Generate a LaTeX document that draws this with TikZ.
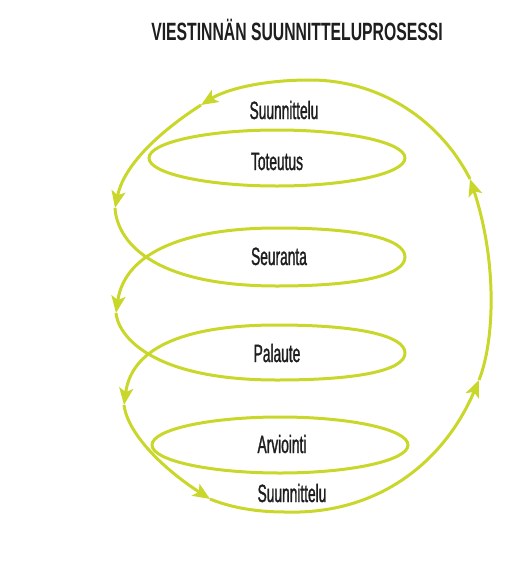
\documentclass[tikz,border=0pt]{standalone}
\usepackage{fontspec}
\usepackage{tikz}
\usetikzlibrary{arrows.meta}
\newfontfamily\lblfont[FakeStretch=0.55,FakeBold=1.2]{Liberation Sans}
\newfontfamily\ttlfont[FakeStretch=0.63]{Liberation Sans Bold}
\definecolor{VSLime}{HTML}{C9D62A}
\definecolor{VSInk}{HTML}{1E1E1E}

\begin{document}
\begin{tikzpicture}[
  x=1pt,y=-1pt,
  spiral/.style={draw=VSLime,line width=3pt},
  arr/.style={spiral,-{Stealth[length=17pt,width=14pt,inset=4pt]}},
  lbl/.style={anchor=base,text=VSInk,inner sep=0pt,font=\lblfont\fontsize{25}{30}\selectfont}
]
\useasboundingbox (0,0) rectangle (528,576);
\node[anchor=base,text=VSInk,inner sep=0pt,font=\ttlfont\fontsize{25}{30}\selectfont] (title) at (297,40) {VIESTINNÄN SUUNNITTELUPROSESSI};
% arrow points along the spiral
\coordinate (a1) at (201,105);
\coordinate (a2) at (115,208);
\coordinate (a3) at (116,313);
\coordinate (a4) at (124,405);
\coordinate (a5) at (210,499);
\coordinate (a6) at (479,380);
\coordinate (a7) at (470,179);
% closed loops
\draw[spiral] (277,158) ellipse [x radius=128,y radius=28];
\draw[spiral] (280,445) ellipse [x radius=128,y radius=28];
% spiral
\draw[arr] (a7) .. controls (440,120) and (380,80) .. (310,80)
  .. controls (260,80) and (225,90) .. (a1);
\draw[arr] (a1) .. controls (170,125) and (125,160) .. (a2);
\draw[arr] (a2) .. controls (117,240) and (150,286) .. (277,286)
  .. controls (360,286) and (405,275) .. (405,257)
  .. controls (405,239) and (360,228) .. (277,228)
  .. controls (190,228) and (125,250) .. (a3);
\draw[arr] (a3) .. controls (118,335) and (150,380) .. (277,380)
  .. controls (360,380) and (405,370) .. (405,353)
  .. controls (405,336) and (360,325) .. (277,325)
  .. controls (190,325) and (132,345) .. (a4);
\draw[arr] (a4) .. controls (128,435) and (165,470) .. (a5);
\draw[arr] (a5) .. controls (232,508) and (258,512) .. (285,512)
  .. controls (380,515) and (445,460) .. (a6);
\draw[arr] (a6) .. controls (495,340) and (497,260) .. (a7);
% labels
\node[lbl] (plan1) at (284,119) {Suunnittelu};
\node[lbl] (impl) at (277,170) {Toteutus};
\node[lbl] (mon) at (279,265) {Seuranta};
\node[lbl] (fb) at (277,362) {Palaute};
\node[lbl] (eval) at (282,453) {Arviointi};
\node[lbl] (plan2) at (292,502) {Suunnittelu};
\end{tikzpicture}
\end{document}
